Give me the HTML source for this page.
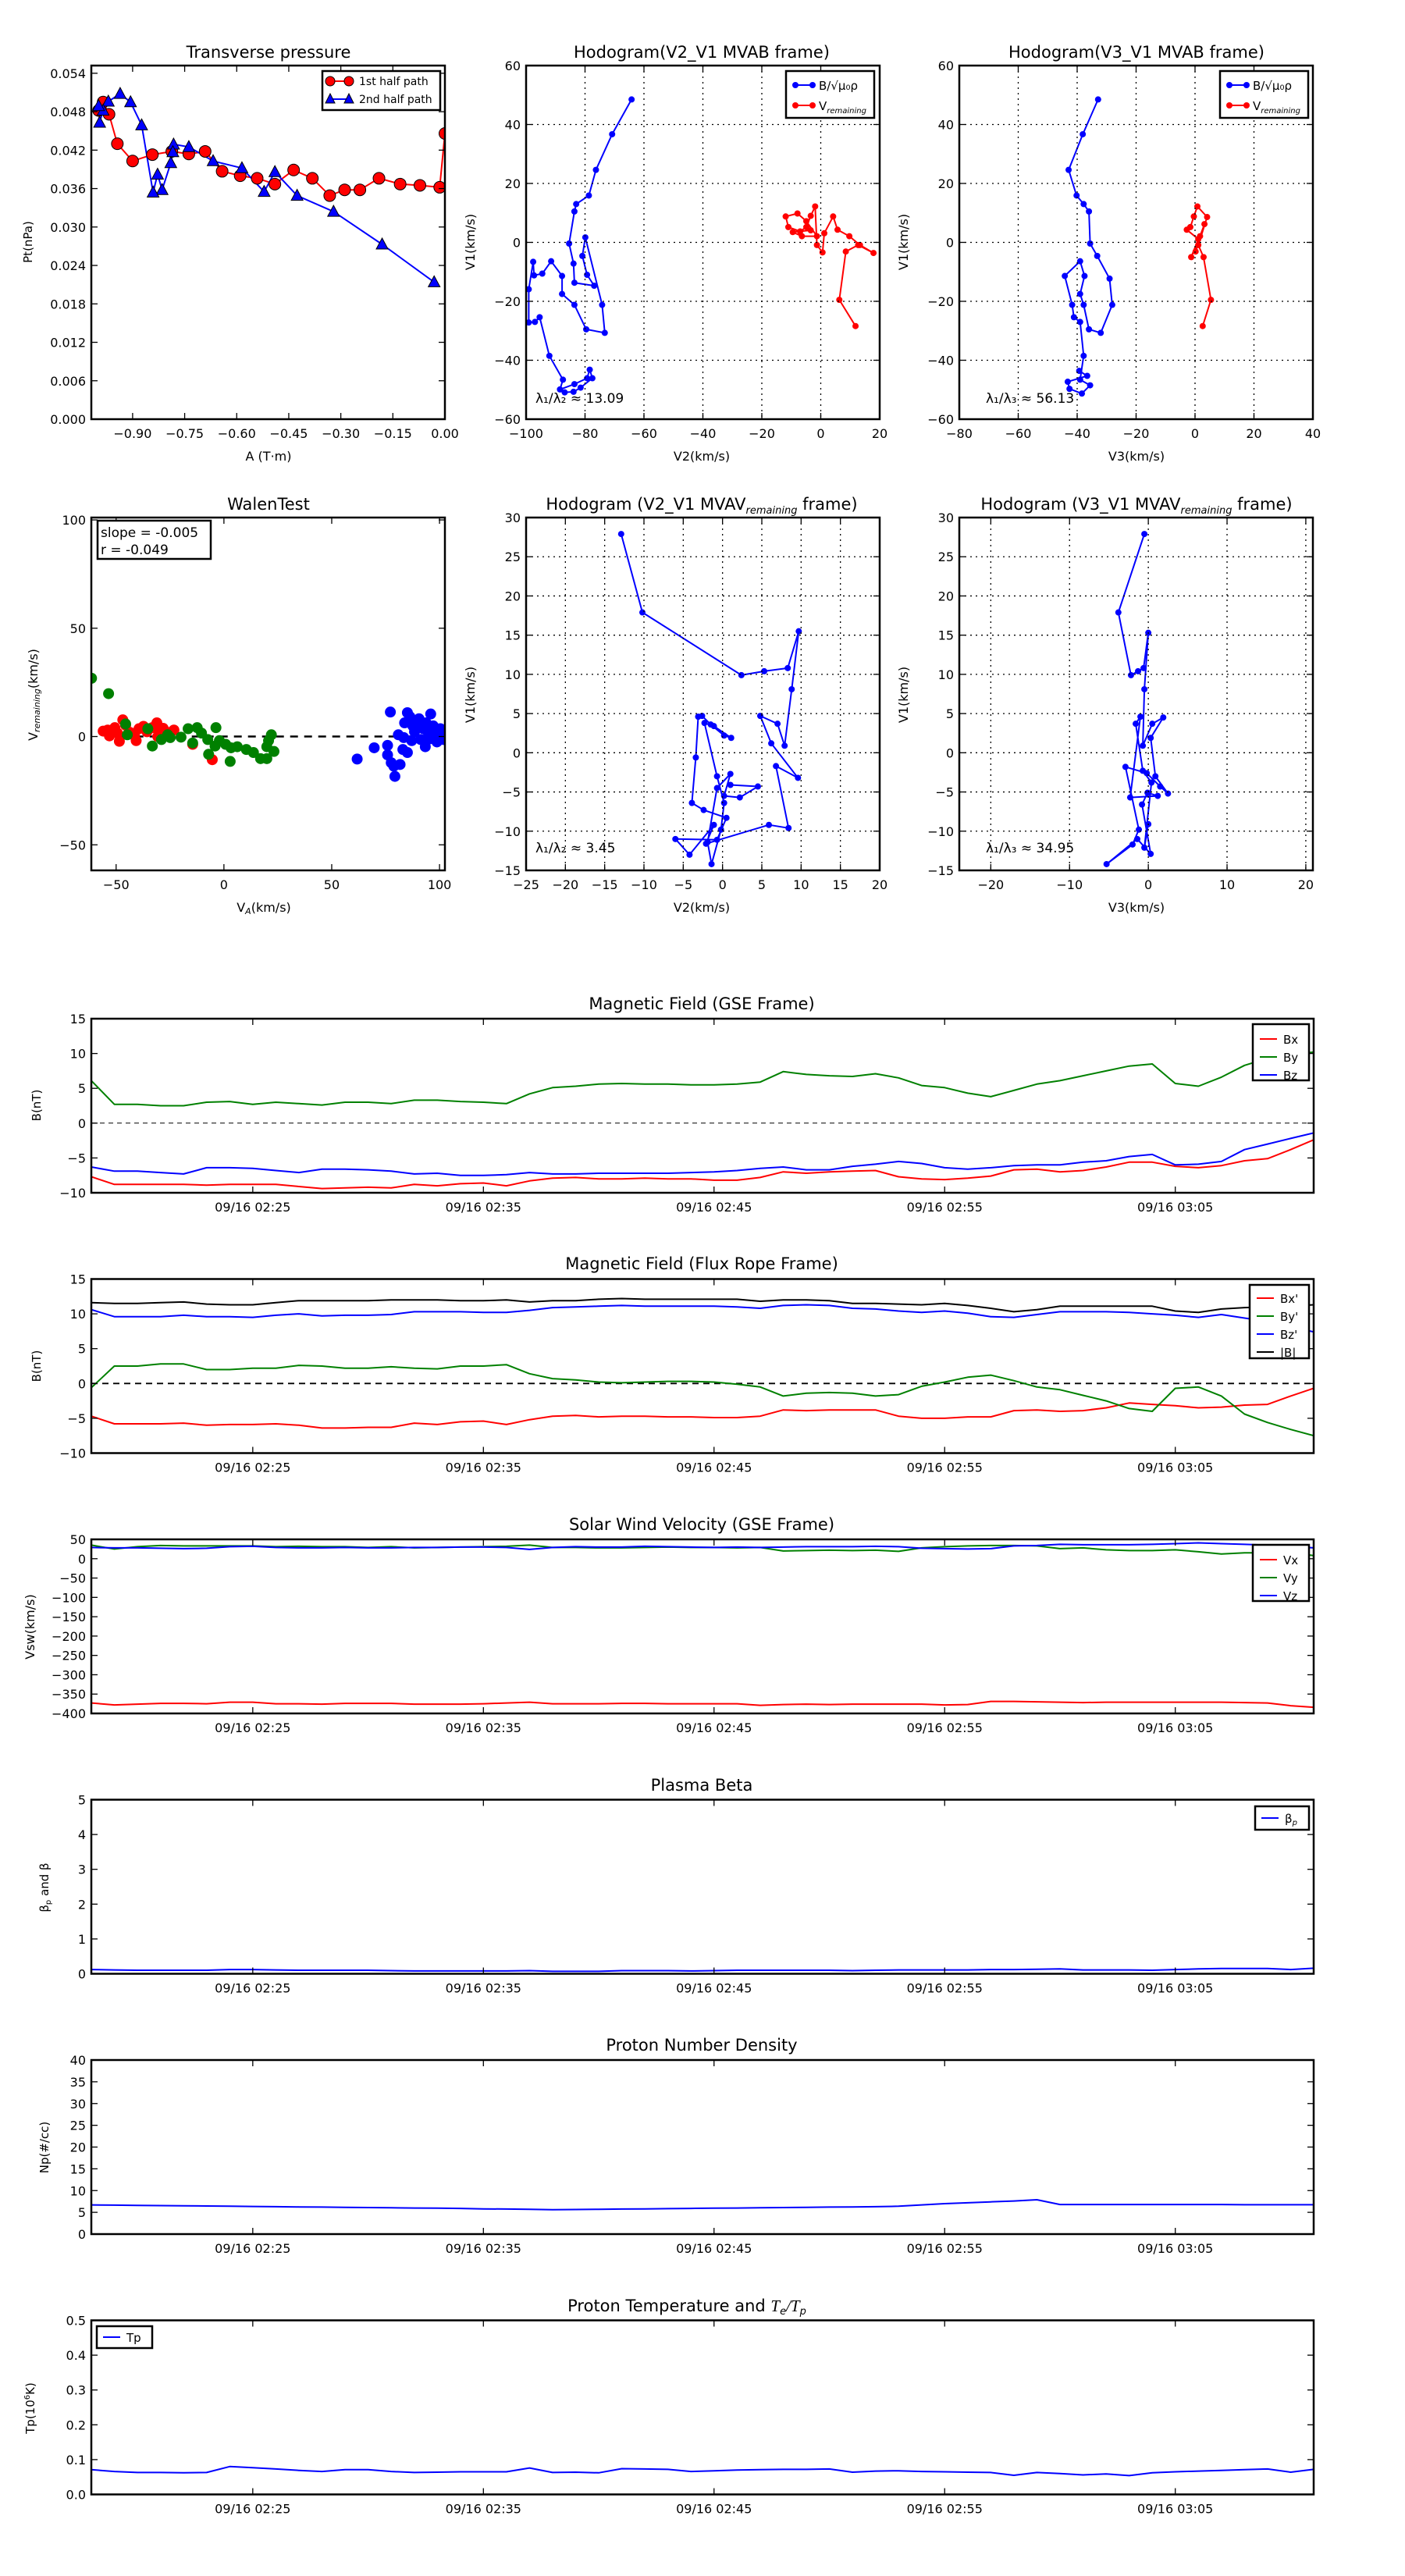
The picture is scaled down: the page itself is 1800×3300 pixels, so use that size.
<!DOCTYPE html>
<html><head><meta charset="utf-8">
<style>
html,body{margin:0;padding:0;background:#fff;}
svg{display:block;font-family:"DejaVu Sans","Liberation Sans",sans-serif;}
</style></head>
<body>
<svg id="fig" xmlns="http://www.w3.org/2000/svg" width="1800" height="3300" viewBox="0 0 1800 3300"></svg>
<script>
// ---------- DATA ----------
// Transverse pressure
const tp1A=[-0.998,-0.985,-0.968,-0.944,-0.900,-0.843,-0.787,-0.738,-0.691,-0.642,-0.590,-0.541,-0.490,-0.436,-0.382,-0.332,-0.289,-0.245,-0.190,-0.129,-0.072,-0.015,0.0];
const tp1P=[0.0482,0.0495,0.0476,0.0430,0.0403,0.0413,0.0418,0.0414,0.0418,0.0387,0.0380,0.0376,0.0367,0.0389,0.0376,0.0349,0.0358,0.0358,0.0376,0.0367,0.0365,0.0362,0.0446];
const tp2A=[-0.031,-0.181,-0.321,-0.426,-0.490,-0.521,-0.585,-0.668,-0.738,-0.782,-0.784,-0.790,-0.815,-0.828,-0.841,-0.874,-0.906,-0.936,-0.970,-0.985,-0.995,-0.998];
const tp2P=[0.0214,0.0273,0.0324,0.0349,0.0386,0.0355,0.0392,0.0403,0.0425,0.0429,0.0417,0.0400,0.0358,0.0382,0.0354,0.0459,0.0495,0.0508,0.0496,0.0482,0.0463,0.0489];
// Hodogram V2-V1 MVAB
const h2bX=[-64.2,-70.8,-76.3,-78.7,-83.0,-83.6,-85.4,-83.9,-83.6,-76.9,-79.3,-80.9,-79.9,-74.2,-73.3,-79.6,-83.6,-87.8,-87.8,-91.5,-94.5,-97.3,-97.6,-99.1,-99.1,-97.0,-95.4,-92.1,-87.5,-88.5,-83.6,-79.3,-78.4,-77.5,-81.5,-83.9,-86.9];
const h2bY=[48.5,36.7,24.6,15.9,13.0,10.5,-0.4,-7.2,-13.7,-14.7,-11.0,-4.6,1.7,-21.2,-30.7,-29.5,-21.2,-17.5,-11.4,-6.4,-10.6,-11.2,-6.6,-15.9,-27.2,-27.0,-25.4,-38.5,-46.6,-49.9,-48.1,-46.1,-43.2,-46.1,-49.3,-50.7,-50.9];
const h2vX=[11.8,6.3,8.5,12.7,17.9,13.3,9.7,5.7,4.2,1.2,0.6,-1.3,-1.9,-3.4,-4.9,-7.0,-11.0,-11.9,-7.9,-4.9,-1.3,-6.4,-9.5,-3.4];
const h2vY=[-28.4,-19.5,-3.1,-0.9,-3.6,-0.9,2.1,4.3,8.8,3.1,-3.4,-0.9,12.2,9.0,5.2,3.7,5.2,8.8,9.8,7.2,2.1,2.1,3.5,4.1];
// Hodogram V3-V1 MVAB
const h3bX=[-32.9,-38.1,-42.9,-40.2,-37.8,-36.0,-35.6,-33.2,-29.0,-28.1,-32.0,-36.0,-37.8,-39.0,-37.5,-39.0,-44.2,-41.7,-41.1,-39.0,-37.8,-39.0,-35.6,-38.4,-42.6,-43.2,-36.6,-39.3];
const h3bY=[48.5,36.7,24.6,15.9,13.0,10.5,-0.4,-4.6,-12.3,-21.2,-30.7,-29.5,-21.2,-17.5,-11.4,-6.4,-11.4,-21.2,-25.4,-27.0,-38.5,-46.6,-48.5,-51.3,-49.7,-47.3,-45.3,-43.6];
const h3vX=[2.6,5.4,2.9,1.1,4.1,0.8,-0.4,-1.6,-2.8,1.1,-1.3,1.7,3.2,0.2];
const h3vY=[-28.4,-19.5,-5.0,-0.9,8.6,12.2,8.8,5.2,4.3,1.1,-5.0,2.1,6.2,-3.1];
// Walen test
const wRX=[-56.0,-53.9,-50.6,-49.4,-48.5,-46.9,-45.6,-43.6,-41.5,-39.4,-37.3,-35.7,-33.2,-31.1,-29.9,-28.2,-26.6,-24.9,-23.2,-14.5,-5.4,-53.1,-40.7,-30.7];
const wRY=[2.5,3.0,4.1,1.6,-2.2,7.7,5.2,1.9,0.5,3.6,4.7,2.2,4.1,6.3,2.2,3.8,1.4,1.9,3.0,-3.6,-10.7,0.3,-1.9,0];
const wGX=[-61.4,-53.5,-45.6,-44.8,-35.3,-33.2,-29.0,-26.1,-19.9,-16.6,-14.5,-12.4,-10.4,-7.1,-3.7,-4.1,-2.1,0.8,2.9,3.3,6.2,10.4,13.7,17.0,19.9,20.7,22.0,23.2,19.9,-24.9,-7.5];
const wGY=[26.9,19.8,5.8,0.8,3.6,-4.4,-1.4,0.8,-0.3,3.6,-3.0,4.1,1.6,-8.2,4.1,-4.4,-1.9,-3.6,-11.5,-5.2,-4.7,-6.0,-7.4,-10.2,-4.7,-1.9,0.8,-6.9,-10.2,-0.5,-1.4];
const wBX=[61.8,69.7,75.9,77.2,75.9,77.6,78.8,79.3,81.7,83.0,83.4,83.8,85.1,86.3,87.6,88.4,89.2,90.5,91.3,92.5,93.4,94.6,95.9,97.1,98.3,99.2,100.4,101.2,102.0,93.8,87.1,80.9,85.1,91.3,98.8,95.4];
const wBY=[-10.4,-5.2,-4.1,11.3,-8.5,-12.1,-13.7,-18.4,-12.9,-6.0,-0.5,6.3,11.0,9.1,4.9,2.2,6.3,8.2,4.9,3.6,-4.7,2.2,10.4,4.9,0.3,2.2,3.6,0.8,-1.4,6.3,-1.9,0.8,-7.4,-1.4,-2.5,-1.1];
// Hodogram MVAV remaining
const r2X=[-12.9,-10.2,2.4,5.3,8.3,9.7,8.8,7.9,7.0,4.8,6.2,9.6,6.8,8.4,5.9,-2.1,-1.1,-4.2,-6.0,-0.7,0.5,-2.4,-3.9,-3.4,-3.1,-2.6,-1.5,0.2,1.1,-1.1,-2.3,-0.7,0.2,-0.2,-1.4,-1.9,-0.7,1.0,0.2,2.2,4.5,1.0];
const r2Y=[27.9,17.9,9.9,10.4,10.8,15.5,8.1,0.9,3.7,4.7,1.2,-3.2,-1.7,-9.6,-9.2,-11.6,-9.2,-13.0,-11.0,-11.1,-8.3,-7.3,-6.4,-0.6,4.6,4.7,3.6,2.2,1.9,3.4,3.8,-3.0,-6.4,-9.8,-14.2,-11.4,-4.5,-2.7,-5.5,-5.7,-4.3,-4.1];
const r3X=[-0.5,-3.8,-2.2,-1.3,-0.6,0.0,-0.5,-0.7,0.5,1.9,0.3,0.9,2.5,1.5,-0.2,-2.9,-1.2,-2.0,-5.3,-1.4,0.3,-0.8,-0.1,1.2,-2.3,-1.0,-1.6,-0.7,0.4,-0.5,0.0];
const r3Y=[27.9,17.9,9.9,10.4,10.8,15.3,8.1,0.9,3.7,4.5,1.9,-3.0,-5.2,-4.3,-2.6,-1.8,-9.8,-11.7,-14.2,-11.0,-12.9,-6.6,-5.1,-5.5,-5.7,4.6,3.7,-2.3,-3.8,-12.1,-9.1];
// Time series (1-min samples from 02:18 to 03:11)
const timeTicks=["09/16 02:25","09/16 02:35","09/16 02:45","09/16 02:55","09/16 03:05"];
const timeTickIdx=[7,17,27,37,47];
const gseBx=[-7.7,-8.8,-8.8,-8.8,-8.8,-8.9,-8.8,-8.8,-8.8,-9.1,-9.4,-9.3,-9.2,-9.3,-8.8,-9.0,-8.7,-8.6,-9.0,-8.3,-7.9,-7.8,-8.0,-8.0,-7.9,-8.0,-8.0,-8.2,-8.2,-7.8,-7.0,-7.2,-7.0,-6.9,-6.8,-7.7,-8.0,-8.1,-7.9,-7.6,-6.7,-6.6,-7.0,-6.8,-6.3,-5.6,-5.6,-6.2,-6.4,-6.1,-5.4,-5.1,-3.8,-2.4];
const gseBy=[6.1,2.7,2.7,2.5,2.5,3.0,3.1,2.7,3.0,2.8,2.6,3.0,3.0,2.8,3.3,3.3,3.1,3.0,2.8,4.2,5.1,5.3,5.6,5.7,5.6,5.6,5.5,5.5,5.6,5.9,7.4,7.0,6.8,6.7,7.1,6.5,5.4,5.1,4.3,3.8,4.7,5.6,6.1,6.8,7.5,8.2,8.5,5.7,5.3,6.6,8.3,9.3,9.8,10.2];
const gseBz=[-6.3,-6.9,-6.9,-7.1,-7.3,-6.4,-6.4,-6.5,-6.8,-7.1,-6.6,-6.6,-6.7,-6.9,-7.3,-7.2,-7.5,-7.5,-7.4,-7.1,-7.3,-7.3,-7.2,-7.2,-7.2,-7.2,-7.1,-7.0,-6.8,-6.5,-6.3,-6.7,-6.7,-6.2,-5.9,-5.5,-5.8,-6.4,-6.6,-6.4,-6.1,-6.0,-6.0,-5.6,-5.4,-4.8,-4.5,-6.0,-5.9,-5.5,-3.8,-3.0,-2.2,-1.4];
const frBx=[-4.7,-5.8,-5.8,-5.8,-5.7,-6.0,-5.9,-5.9,-5.8,-6.0,-6.4,-6.4,-6.3,-6.3,-5.7,-5.9,-5.5,-5.4,-5.9,-5.2,-4.7,-4.6,-4.8,-4.7,-4.7,-4.8,-4.8,-4.9,-4.9,-4.7,-3.8,-3.9,-3.8,-3.8,-3.8,-4.7,-5.0,-5.0,-4.8,-4.8,-3.9,-3.8,-4.0,-3.9,-3.5,-2.8,-3.0,-3.2,-3.5,-3.4,-3.1,-3.0,-1.8,-0.7];
const frBy=[-0.6,2.5,2.5,2.8,2.8,2.0,2.0,2.2,2.2,2.6,2.5,2.2,2.2,2.4,2.2,2.1,2.5,2.5,2.7,1.4,0.7,0.5,0.2,0.1,0.2,0.3,0.3,0.2,-0.1,-0.5,-1.8,-1.4,-1.3,-1.4,-1.8,-1.6,-0.4,0.2,0.9,1.2,0.4,-0.5,-0.9,-1.7,-2.5,-3.6,-4.0,-0.7,-0.5,-1.8,-4.4,-5.6,-6.6,-7.5];
const frBz=[10.6,9.6,9.6,9.6,9.8,9.6,9.6,9.5,9.8,10.0,9.7,9.8,9.8,9.9,10.3,10.3,10.3,10.2,10.2,10.5,10.9,11.0,11.1,11.2,11.1,11.1,11.1,11.1,11.0,10.8,11.2,11.3,11.2,10.8,10.7,10.4,10.2,10.4,10.1,9.6,9.5,9.9,10.3,10.3,10.3,10.2,10.0,9.8,9.5,9.9,9.4,8.9,8.2,7.4];
const frBt=[11.6,11.5,11.5,11.6,11.7,11.4,11.3,11.3,11.6,11.9,11.9,11.9,11.9,12.0,12.0,12.0,11.9,11.9,12.0,11.7,11.9,11.9,12.1,12.2,12.1,12.1,12.1,12.1,12.1,11.8,12.0,12.0,11.9,11.5,11.5,11.4,11.3,11.5,11.2,10.8,10.3,10.6,11.1,11.1,11.1,11.1,11.1,10.4,10.2,10.7,10.9,11.0,11.1,11.3];
const vswX=[-373,-378,-376,-374,-374,-375,-371,-371,-375,-375,-376,-374,-374,-374,-376,-376,-376,-375,-373,-371,-375,-375,-375,-374,-374,-375,-375,-375,-375,-379,-377,-376,-377,-376,-376,-376,-376,-378,-377,-369,-369,-370,-371,-372,-371,-371,-371,-371,-371,-371,-372,-373,-380,-384];
const vswY=[35,25,31,34,33,33,33,33,31,32,31,31,29,31,28,29,30,31,32,35,29,29,28,28,29,30,29,29,28,29,20,21,22,21,22,19,28,31,33,34,34,33,26,28,23,21,21,23,18,12,15,15,15,8];
const vswZ=[29,28,28,27,26,27,31,32,29,28,28,29,28,28,29,29,30,30,29,24,29,31,30,30,32,31,30,29,30,29,30,31,31,31,32,31,27,26,25,26,33,34,37,36,36,36,37,39,41,39,37,35,32,28];
const betaP=[0.12,0.11,0.10,0.10,0.10,0.10,0.12,0.12,0.11,0.10,0.10,0.10,0.10,0.09,0.08,0.08,0.08,0.08,0.08,0.09,0.07,0.07,0.07,0.09,0.09,0.09,0.08,0.09,0.10,0.10,0.10,0.10,0.10,0.09,0.10,0.11,0.11,0.11,0.11,0.12,0.12,0.13,0.14,0.11,0.11,0.11,0.10,0.12,0.14,0.15,0.15,0.15,0.12,0.16];
const densNp=[6.7,6.65,6.6,6.55,6.5,6.45,6.4,6.35,6.3,6.25,6.2,6.15,6.1,6.05,6.0,5.95,5.9,5.8,5.75,5.7,5.6,5.65,5.7,5.75,5.8,5.85,5.9,5.95,6.0,6.05,6.1,6.15,6.2,6.25,6.3,6.4,6.7,7.0,7.2,7.4,7.6,7.9,6.8,6.8,6.8,6.8,6.8,6.8,6.8,6.8,6.75,6.75,6.75,6.75];
const tempTp=[0.071,0.066,0.063,0.063,0.062,0.063,0.080,0.077,0.073,0.069,0.066,0.071,0.071,0.066,0.063,0.064,0.065,0.065,0.065,0.076,0.063,0.064,0.062,0.074,0.073,0.072,0.066,0.068,0.070,0.071,0.072,0.072,0.073,0.064,0.067,0.068,0.066,0.065,0.064,0.063,0.055,0.063,0.060,0.056,0.059,0.054,0.062,0.065,0.067,0.069,0.071,0.073,0.064,0.072];

// ---------- HELPERS ----------
const NS='http://www.w3.org/2000/svg';
const svg=document.getElementById('fig');
function mk(tag,attrs,parent){const e=document.createElementNS(NS,tag);for(const k in attrs)e.setAttribute(k,attrs[k]);(parent||svg).appendChild(e);return e;}
function txt(s,x,y,size,anchor,parent,extra){const e=mk('text',Object.assign({x:x,y:y,'font-size':size,'text-anchor':anchor||'middle',fill:'#000'},extra||{}),parent);e.textContent=s;return e;}

function axes(name,x0,y0,w,h,xmin,xmax,ymin,ymax){
  const g=mk('g',{});
  
  
  const sx=v=>x0+(v-xmin)/(xmax-xmin)*w;
  const sy=v=>y0+h-(v-ymin)/(ymax-ymin)*h;
  const clipId='c'+name;
  const cp=mk('clipPath',{id:clipId},g);mk('rect',{x:x0,y:y0,width:w,height:h},cp);
  const plot=mk('g',{'clip-path':'url(#'+clipId+')'},g);
  return {g,plot,sx,sy,x0,y0,w,h};
}
function frame(A){const r=mk('rect',{x:A.x0,y:A.y0,width:A.w,height:A.h,fill:'none',stroke:'#000','stroke-width':2.5},A.g);
  
  }
function xticks(A,vals,labels,grid){
  vals.forEach((v,i)=>{const x=A.sx(v);
    if(grid)mk('line',{x1:x,x2:x,y1:A.y0,y2:A.y0+A.h,stroke:'#000','stroke-width':1.3,'stroke-dasharray':'2,5'},A.g);
    mk('line',{x1:x,x2:x,y1:A.y0+A.h,y2:A.y0+A.h-8,stroke:'#000','stroke-width':1.3},A.g);
    mk('line',{x1:x,x2:x,y1:A.y0,y2:A.y0+8,stroke:'#000','stroke-width':1.3},A.g);
    const t=txt(labels[i],x,A.y0+A.h+24,16,'middle',A.g);
    
    });
}
function yticks(A,vals,labels,grid){
  vals.forEach((v,i)=>{const y=A.sy(v);
    if(grid)mk('line',{x1:A.x0,x2:A.x0+A.w,y1:y,y2:y,stroke:'#000','stroke-width':1.3,'stroke-dasharray':'2,5'},A.g);
    mk('line',{x1:A.x0,x2:A.x0+8,y1:y,y2:y,stroke:'#000','stroke-width':1.3},A.g);
    mk('line',{x1:A.x0+A.w,x2:A.x0+A.w-8,y1:y,y2:y,stroke:'#000','stroke-width':1.3},A.g);
    const t=txt(labels[i],A.x0-7,y+6,16,'end',A.g);
    
    });
}
function line(A,xs,ys,color,name,w){const pts=xs.map((x,i)=>A.sx(x).toFixed(1)+','+A.sy(ys[i]).toFixed(1)).join(' ');
  const p=mk('polyline',{points:pts,fill:'none',stroke:color,'stroke-width':w||2,'stroke-linejoin':'round'},A.plot);
  
  return p;}
function dots(A,xs,ys,color,r,name){xs.forEach((x,i)=>{const c=mk('circle',{cx:A.sx(x),cy:A.sy(ys[i]),r:r,fill:color,stroke:color==='blue'||color==='#00f'?'none':'none'},A.plot);
  
  });}
function title(s,x,y){const t=txt(s,x,y,21,'middle');return t;}
function ylab(s,x,y,size){const t=txt(s,x,y,size||16,'middle',svg,{transform:'rotate(-90 '+x+' '+y+')'});return t;}
function xlab(s,x,y){const t=txt(s,x,y,16,'middle');return t;}
function legendBox(x,y,w,h,name){const r=mk('rect',{x:x,y:y,width:w,height:h,fill:'#fff',stroke:'#000','stroke-width':2.5});}
function legLine(x,y,color,label,marker){mk('line',{x1:x,x2:x+22,y1:y,y2:y,stroke:color,'stroke-width':2});
  if(marker){mk('circle',{cx:x,cy:y,r:4,fill:color});mk('circle',{cx:x+22,cy:y,r:4,fill:color});}
  const t=txt(label,x+30,y+6,15,'start');return t;}
const rng=(a,b,s)=>{const o=[];for(let v=a;v<=b+1e-9;v+=s)o.push(+v.toFixed(6));return o;};

// ---------- PANEL 1: Transverse pressure ----------
(function(){
 const A=axes('transverse-pressure-plot',117,84,453,453,-1.019,0,0,0.0552);
 line(A,tp1A,tp1P,'red','first-half-path-line',2);
 line(A,tp2A,tp2P,'blue','second-half-path-line',2);
 tp1A.forEach((a,i)=>{const c=mk('circle',{cx:A.sx(a),cy:A.sy(tp1P[i]),r:7.5,fill:'red',stroke:'#000','stroke-width':1},A.plot);
  
  });
 tp2A.forEach((a,i)=>{const x=A.sx(a),y=A.sy(tp2P[i]);const t=mk('polygon',{points:`${x},${y-8} ${x-7.5},${y+6} ${x+7.5},${y+6}`,fill:'blue',stroke:'#000','stroke-width':1},A.plot);
  
  });
 frame(A);
 const xv=rng(-0.9,0,0.15);xticks(A,xv,xv.map(v=>(v<0?'\u2212':'')+Math.abs(v).toFixed(2)));
 const yv=rng(0,0.054,0.006);yticks(A,yv,yv.map(v=>v.toFixed(3)));
 legendBox(413,91,151,50,'pressure-legend');
 mk('line',{x1:423,x2:447,y1:104,y2:104,stroke:'red','stroke-width':2});mk('circle',{cx:423,cy:104,r:6,fill:'red',stroke:'#000'});mk('circle',{cx:447,cy:104,r:6,fill:'red',stroke:'#000'});
 let t=txt('1st half path',460,109,14,'start');
 mk('line',{x1:423,x2:447,y1:127,y2:127,stroke:'blue','stroke-width':2});mk('polygon',{points:'423,120 417,132 429,132',fill:'blue',stroke:'#000'});mk('polygon',{points:'447,120 441,132 453,132',fill:'blue',stroke:'#000'});
 t=txt('2nd half path',460,132,14,'start');
 title('Transverse pressure',344,74);ylab('Pt(nPa)',41,310,15);xlab('A (T\u00b7m)',344,590);
})();

// ---------- PANEL 2/3: Hodograms MVAB ----------
function hodoLeg(x){legendBox(x,91,113,60,'hodogram-legend');
 legLine(x+12,109,'blue','B/\u221A\u03BC\u2080\u03C1',true);
 const t=legLine(x+12,135,'red','V',true);const s=mk('tspan',{'font-size':10,'font-style':'italic',dy:4},t);s.textContent='remaining';}
(function(){
 const A=axes('hodogram-v2-v1-mvab',674,84,453,453,-100,20,-60,60);
 const xv=rng(-100,20,20),yv=rng(-60,60,20);
 xticks(A,xv,xv.map(v=>v<0?'\u2212'+(-v):''+v),true);yticks(A,yv,yv.map(v=>v<0?'\u2212'+(-v):''+v),true);
 line(A,h2bX,h2bY,'blue','b-field-path',2);dots(A,h2bX,h2bY,'blue',4,'b-field-point');
 line(A,h2vX,h2vY,'red','v-remaining-path',2);dots(A,h2vX,h2vY,'red',4,'v-remaining-point');
 frame(A);hodoLeg(1007);
 const t=txt('\u03BB\u2081/\u03BB\u2082 \u2248 13.09',686,516,17,'start');
 title('Hodogram(V2_V1 MVAB frame)',899,74);ylab('V1(km/s)',608,310);xlab('V2(km/s)',899,590);
})();
(function(){
 const A=axes('hodogram-v3-v1-mvab',1229,84,453,453,-80,40,-60,60);
 const xv=rng(-80,40,20),yv=rng(-60,60,20);
 xticks(A,xv,xv.map(v=>v<0?'\u2212'+(-v):''+v),true);yticks(A,yv,yv.map(v=>v<0?'\u2212'+(-v):''+v),true);
 line(A,h3bX,h3bY,'blue','b-field-path',2);dots(A,h3bX,h3bY,'blue',4,'b-field-point');
 line(A,h3vX,h3vY,'red','v-remaining-path',2);dots(A,h3vX,h3vY,'red',4,'v-remaining-point');
 frame(A);hodoLeg(1563);
 const t=txt('\u03BB\u2081/\u03BB\u2083 \u2248 56.13',1263,516,17,'start');
 title('Hodogram(V3_V1 MVAB frame)',1456,74);ylab('V1(km/s)',1163,310);xlab('V3(km/s)',1456,590);
})();

// ---------- PANEL 4: Walen test ----------
(function(){
 const A=axes('walen-test-plot',117,663,453,452,-61.5,102.5,-61.8,101.1);
 const xv=[-50,0,50,100],yv=[-50,0,50,100];
 xticks(A,xv,xv.map(v=>v<0?'\u2212'+(-v):''+v));yticks(A,yv,yv.map(v=>v<0?'\u2212'+(-v):''+v));
 const d=mk('line',{x1:A.sx(-54),x2:A.sx(102.5),y1:A.sy(0),y2:A.sy(0),stroke:'#000','stroke-width':2.5,'stroke-dasharray':'10,8'},A.plot);
 
 dots(A,wRX,wRY,'red',7,'walen-red-point');dots(A,wGX,wGY,'green',7,'walen-green-point');dots(A,wBX,wBY,'blue',7,'walen-blue-point');
 frame(A);
 legendBox(125,667,145,49,'walen-stats-box');
 let t=txt('slope = -0.005',129,688,17,'start');
 t=txt('r = -0.049',129,710,17,'start');
 title('WalenTest',344,653);
 const yl=ylab('V',48,890,16);const s=mk('tspan',{'font-size':11,'font-style':'italic',dy:3},yl);s.textContent='remaining';const s2=mk('tspan',{dy:-3},yl);s2.textContent='(km/s)';
 const xl=xlab('V',338,1168);const s3=mk('tspan',{'font-size':11,'font-style':'italic',dy:3},xl);s3.textContent='A';const s4=mk('tspan',{dy:-3},xl);s4.textContent='(km/s)';
})();

// ---------- PANEL 5/6: Hodograms MVAV ----------
function remTitle(prefix,x,y){const t=title(prefix,x,y);const s=mk('tspan',{'font-size':13,'font-style':'italic',dy:5},t);s.textContent='remaining';const s2=mk('tspan',{dy:-5},t);s2.textContent=' frame)';}
(function(){
 const A=axes('hodogram-v2-v1-mvav',674,663,453,452,-25,20,-15,30);
 const xv=rng(-25,20,5),yv=rng(-15,30,5);
 xticks(A,xv,xv.map(v=>v<0?'\u2212'+(-v):''+v),true);yticks(A,yv,yv.map(v=>v<0?'\u2212'+(-v):''+v),true);
 line(A,r2X,r2Y,'blue','v-path',2);dots(A,r2X,r2Y,'blue',4,'v-point');
 frame(A);
 const t=txt('\u03BB\u2081/\u03BB\u2082 \u2248 3.45',686,1092,17,'start');
 remTitle('Hodogram (V2_V1 MVAV',899,653);ylab('V1(km/s)',608,890);xlab('V2(km/s)',899,1168);
})();
(function(){
 const A=axes('hodogram-v3-v1-mvav',1229,663,453,452,-24,20.9,-15,30);
 const xv=rng(-20,20,10),yv=rng(-15,30,5);
 xticks(A,xv,xv.map(v=>v<0?'\u2212'+(-v):''+v),true);yticks(A,yv,yv.map(v=>v<0?'\u2212'+(-v):''+v),true);
 line(A,r3X,r3Y,'blue','v-path',2);dots(A,r3X,r3Y,'blue',4,'v-point');
 frame(A);
 const t=txt('\u03BB\u2081/\u03BB\u2083 \u2248 34.95',1263,1092,17,'start');
 remTitle('Hodogram (V3_V1 MVAV',1456,653);ylab('V1(km/s)',1163,890);xlab('V3(km/s)',1456,1168);
})();

// ---------- TIME SERIES ----------
const idx=gseBx.map((_,i)=>i);
function tpanel(name,k,ymin,ymax,ystep,fmt){
 const top=1305+333.5*k;
 const A=axes(name,117,top,1566,223,0,53,ymin,ymax);
 xticks(A,timeTickIdx,timeTicks);
 const yv=rng(ymin,ymax,ystep);yticks(A,yv,yv.map(fmt));
 return A;}
const ifmt=v=>v<0?'\u2212'+(-v):''+v;
(function(){
 const A=tpanel('gse-magnetic-field',0,-10,15,5,ifmt);
 const z=mk('line',{x1:A.x0,x2:A.x0+A.w,y1:A.sy(0),y2:A.sy(0),stroke:'#000','stroke-width':1,'stroke-dasharray':'6,5'},A.plot);
 line(A,idx,gseBx,'red','bx-line');line(A,idx,gseBy,'green','by-line');line(A,idx,gseBz,'blue','bz-line');
 frame(A);legendBox(1605,1312,72,72,'gse-legend');
 legLine(1614,1331,'red','Bx');legLine(1614,1354,'green','By');legLine(1614,1377,'blue','Bz');
 title('Magnetic Field (GSE Frame)',899,1293);ylab('B(nT)',52,1416,15);
})();
(function(){
 const A=tpanel('flux-rope-magnetic-field',1,-10,15,5,ifmt);
 const z=mk('line',{x1:A.x0,x2:A.x0+A.w,y1:A.sy(0),y2:A.sy(0),stroke:'#000','stroke-width':1.8,'stroke-dasharray':'8,6'},A.plot);
 line(A,idx,frBx,'red','bx-prime-line');line(A,idx,frBy,'green','by-prime-line');line(A,idx,frBz,'blue','bz-prime-line');line(A,idx,frBt,'black','b-magnitude-line');
 frame(A);legendBox(1601,1646,76,94,'flux-rope-legend');
 legLine(1610,1663,'red',"Bx'");legLine(1610,1686,'green',"By'");legLine(1610,1709,'blue',"Bz'");legLine(1610,1732,'black','|B|');
 title('Magnetic Field (Flux Rope Frame)',899,1626);ylab('B(nT)',52,1750,15);
})();
(function(){
 const A=tpanel('solar-wind-velocity',2,-400,50,50,ifmt);
 line(A,idx,vswX,'red','vx-line');line(A,idx,vswY,'green','vy-line');line(A,idx,vswZ,'blue','vz-line');
 frame(A);legendBox(1605,1979,72,72,'velocity-legend');
 legLine(1614,1998,'red','Vx');legLine(1614,2021,'green','Vy');legLine(1614,2044,'blue','Vz');
 title('Solar Wind Velocity (GSE Frame)',899,1960);ylab('Vsw(km/s)',44,2084,16);
})();
(function(){
 const A=tpanel('plasma-beta',3,0,5,1,v=>''+v);
 line(A,idx,betaP,'blue','beta-p-line');
 frame(A);legendBox(1608,2314,69,30,'beta-legend');
 const t=legLine(1616,2329,'blue','\u03B2');const s=mk('tspan',{'font-size':10,dy:3,'font-style':'italic'},t);s.textContent='p';
 title('Plasma Beta',899,2294);
 const yl=ylab('\u03B2',62,2418,15);const s2=mk('tspan',{'font-size':10,dy:3},yl);s2.textContent='p';const s3=mk('tspan',{dy:-3},yl);s3.textContent=' and \u03B2';
})();
(function(){
 const A=tpanel('proton-density',4,0,40,5,v=>''+v);
 line(A,idx,densNp,'blue','np-line');
 frame(A);
 title('Proton Number Density',899,2627);ylab('Np(#/cc)',62,2751,15);
})();
(function(){
 const A=tpanel('proton-temperature',5,0,0.5,0.1,v=>v.toFixed(1));
 line(A,idx,tempTp,'blue','tp-line');
 frame(A);legendBox(124,2980,71,28,'tp-legend');legLine(132,2994,'blue','Tp');
 const t=title('Proton Temperature and ',880,2961);const s=mk('tspan',{'font-style':'italic','font-family':'Liberation Serif, serif'},t);s.textContent='T';
 const s1=mk('tspan',{'font-size':13,dy:4,'font-style':'italic'},t);s1.textContent='e';const s2=mk('tspan',{dy:-4,'font-style':'italic','font-family':'Liberation Serif, serif'},t);s2.textContent='/T';
 const s3=mk('tspan',{'font-size':13,dy:4,'font-style':'italic'},t);s3.textContent='p';
 const yl=ylab('Tp(10',44,3085,15);const s4=mk('tspan',{'font-size':10,dy:-6},yl);s4.textContent='6';const s5=mk('tspan',{dy:6},yl);s5.textContent='K)';
})();
</script>
</body></html>
